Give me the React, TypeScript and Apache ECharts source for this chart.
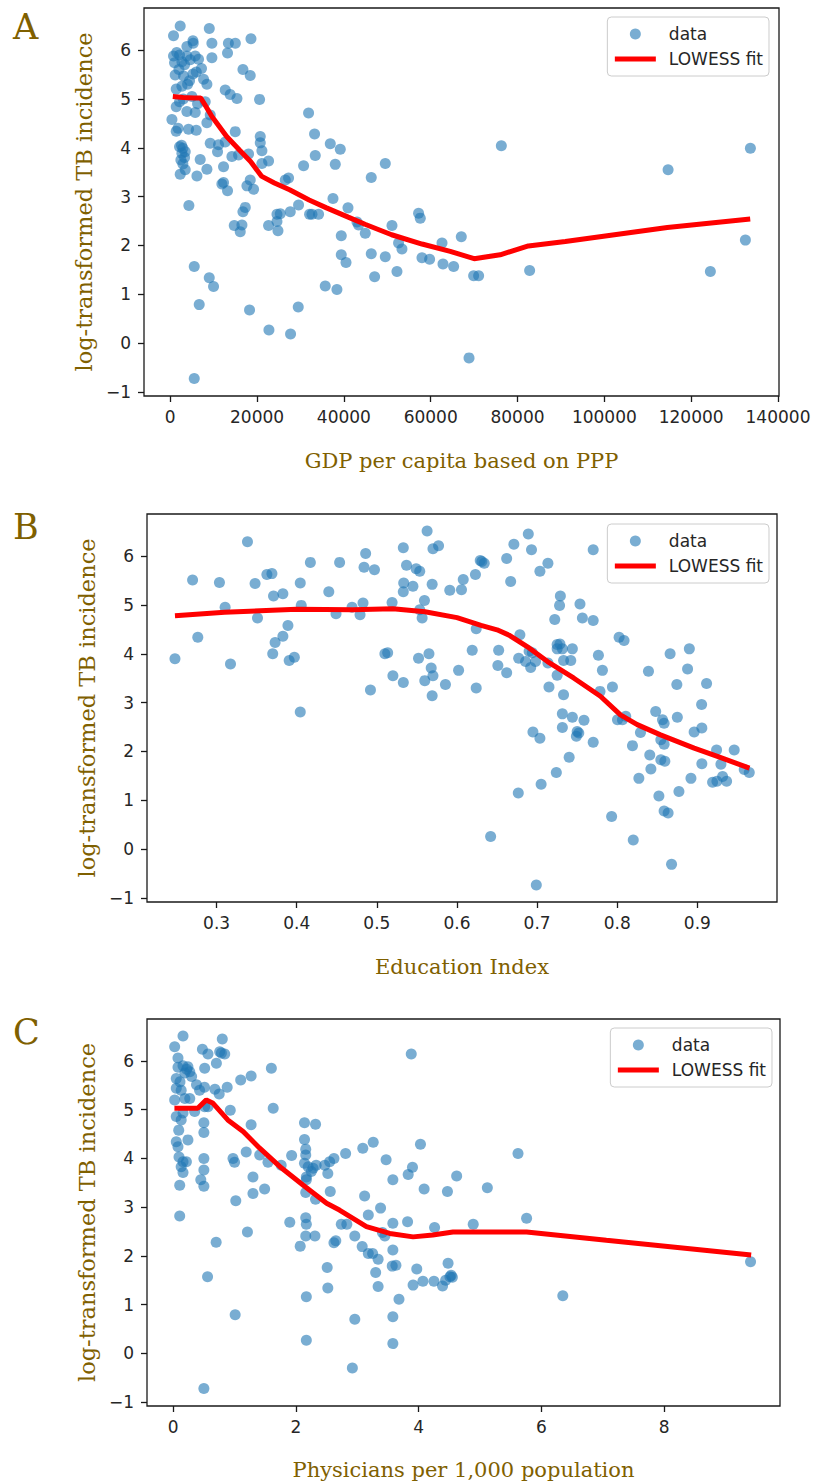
import React, { useEffect, useRef } from "react";
import * as echarts from "echarts";

// ---------- Data ----------
// Panel A: GDP per capita (PPP) vs log-transformed TB incidence
const gdpPoints: [number, number][] = [
  [2300, 6.49], [760, 6.29], [9000, 6.44], [5230, 6.19], [5300, 6.14], [3840, 6.07], [9600, 6.14],
  [13400, 6.14], [15000, 6.14], [13200, 5.94], [18600, 6.23], [760, 5.88], [2150, 5.9], [3840, 5.88],
  [5760, 5.88], [1000, 5.74], [2690, 5.76], [4600, 5.8], [6520, 5.81], [9600, 5.84], [1150, 5.49],
  [3070, 5.47], [5230, 5.51], [7680, 5.4], [8450, 5.3], [2690, 5.26], [1380, 5.2], [4450, 5.37],
  [16750, 5.6], [18430, 5.48], [12670, 5.18], [13820, 5.09], [15370, 5.01], [20580, 4.99], [390, 4.58],
  [1380, 4.84], [2150, 4.94], [3840, 4.74], [5760, 4.72], [8060, 4.94], [9220, 4.67], [8450, 4.51],
  [1380, 4.34], [4220, 4.38], [5990, 4.36], [14980, 4.33], [31870, 4.71], [33250, 4.28], [36870, 4.08],
  [39170, 3.97], [9220, 4.09], [11130, 4.06], [12670, 4.12], [2150, 4.02], [2920, 3.99], [2690, 3.89],
  [3460, 3.92], [20740, 4.23], [20740, 4.1], [21120, 3.94], [10900, 3.92], [14210, 3.82], [15740, 3.85],
  [18040, 3.87], [2460, 3.75], [6910, 3.76], [2920, 3.67], [22650, 3.73], [30720, 3.63], [33410, 3.84],
  [3460, 3.55], [8450, 3.56], [12280, 3.61], [2300, 3.46], [6150, 3.42], [21120, 3.68], [38020, 3.66],
  [49540, 3.68], [46310, 3.39], [12280, 3.29], [11900, 3.26], [13200, 3.12], [17670, 3.22], [19200, 3.15],
  [18430, 3.34], [27260, 3.38], [26500, 3.34], [37490, 2.96], [4300, 2.82],
  [1500, 5.95], [3300, 5.7], [2000, 5.6], [4000, 5.3], [6000, 5.55], [3000, 5.0], [5000, 5.05],
  [1800, 4.4], [2600, 4.05], [3300, 3.8], [6300, 4.9], [7200, 5.62],
  [17280, 2.78], [16750, 2.69], [14750, 2.41], [16520, 2.42], [16130, 2.28], [22650, 2.41], [24590, 2.49],
  [24590, 2.64], [25350, 2.65], [24820, 2.3], [27650, 2.69], [29560, 2.83], [32100, 2.64], [32650, 2.64],
  [34170, 2.64], [40950, 2.77], [39400, 2.2], [43020, 2.48], [43390, 2.42], [44930, 2.25], [39400, 1.81],
  [40490, 1.65], [35710, 1.17], [38400, 1.1], [46310, 1.83], [49540, 1.77], [47080, 1.36], [52230, 1.47],
  [51080, 2.41], [57210, 2.66], [57600, 2.56], [52600, 2.05], [53380, 1.93], [57990, 1.75], [59750, 1.72],
  [62600, 2.05], [67050, 2.18], [62830, 1.62], [65280, 1.57], [69890, 1.38], [71040, 1.38], [68830, -0.3],
  [5530, 1.57], [8990, 1.34], [9980, 1.16], [6680, 0.79], [18270, 0.68], [29490, 0.74], [22740, 0.27],
  [27720, 0.19], [5530, -0.72],
  [76270, 4.04], [133640, 3.99], [114680, 3.55], [132490, 2.11], [82790, 1.49], [124420, 1.47],
];
const gdpLowess: [number, number][] = [
  [600, 5.05], [3000, 5.03], [5500, 5.02], [7000, 5.02], [8000, 4.88], [9600, 4.64], [13000, 4.23],
  [16000, 3.95], [18500, 3.72], [21000, 3.42], [24000, 3.28], [27500, 3.14], [32000, 2.93], [36000, 2.77],
  [41000, 2.58], [45000, 2.43], [51000, 2.22], [58000, 2.03], [64500, 1.88], [70000, 1.73], [76000, 1.81],
  [82500, 1.99], [91000, 2.08], [114500, 2.37], [133600, 2.54],
];

// Panel B: Education Index
const eduPoints: [number, number][] = [
  [0.3385, 6.29], [0.27, 5.51], [0.3035, 5.46], [0.3106, 4.95], [0.2765, 4.34], [0.248, 3.9], [0.3173, 3.79],
  [0.348, 5.44], [0.3627, 5.62], [0.369, 5.64], [0.351, 4.73], [0.371, 5.18], [0.3827, 5.23], [0.389, 4.58],
  [0.3827, 4.36], [0.373, 4.23], [0.37, 4.0], [0.3906, 3.86], [0.397, 3.93], [0.4044, 5.45], [0.4056, 4.99],
  [0.417, 5.87], [0.44, 5.27], [0.4535, 5.87], [0.449, 4.82], [0.469, 4.95], [0.479, 4.8], [0.4827, 5.04],
  [0.486, 6.05], [0.484, 5.77], [0.497, 5.72], [0.519, 5.05], [0.51, 4.0], [0.5135, 4.02], [0.52, 3.55],
  [0.533, 3.41], [0.492, 3.26], [0.533, 6.17], [0.537, 5.81], [0.5335, 5.45], [0.533, 5.27], [0.545, 5.38],
  [0.549, 5.74], [0.5535, 5.69], [0.5627, 6.51], [0.57, 6.15], [0.577, 6.21], [0.569, 5.42], [0.5594, 5.09],
  [0.5535, 4.9], [0.5565, 4.73], [0.552, 3.91], [0.565, 4.0], [0.5678, 3.71], [0.57, 3.55], [0.5598, 3.45],
  [0.569, 3.14], [0.5856, 3.37], [0.591, 5.3], [0.6056, 5.31], [0.6078, 5.52], [0.602, 3.66], [0.623, 5.62],
  [0.631, 5.89], [0.624, 4.51], [0.619, 4.07], [0.624, 3.3], [0.4044, 2.81], [0.689, 6.45], [0.671, 6.24],
  [0.693, 6.13], [0.77, 6.13], [0.662, 5.95], [0.629, 5.91], [0.634, 5.85], [0.667, 5.48], [0.7035, 5.69],
  [0.7135, 5.85], [0.729, 5.18], [0.728, 4.99], [0.7535, 5.02], [0.722, 4.7], [0.7565, 4.73], [0.77, 4.68],
  [0.6785, 4.39], [0.652, 4.07], [0.651, 3.76], [0.662, 3.61], [0.677, 3.91], [0.6856, 3.84], [0.692, 3.72],
  [0.698, 3.84], [0.694, 4.02], [0.69, 4.05], [0.7135, 3.81], [0.725, 4.19], [0.7285, 4.2], [0.725, 4.1],
  [0.7315, 4.1], [0.744, 4.1], [0.742, 3.86], [0.733, 3.86], [0.725, 3.56], [0.7148, 3.32], [0.733, 3.16],
  [0.7765, 3.97], [0.7815, 3.66], [0.7785, 3.23], [0.794, 3.32], [0.8023, 4.34], [0.8085, 4.27],
  [0.7315, 2.77], [0.744, 2.7], [0.7585, 2.64], [0.7315, 2.49], [0.75, 2.41], [0.752, 2.38], [0.749, 2.31],
  [0.6948, 2.4], [0.7035, 2.27], [0.77, 2.19], [0.74, 1.88], [0.724, 1.57], [0.705, 1.33], [0.6765, 1.15],
  [0.642, 0.26], [0.699, -0.73], [0.8003, 2.65], [0.8065, 2.65], [0.8106, 2.72], [0.829, 2.39], [0.819, 2.12],
  [0.793, 0.67], [0.82, 0.19], [0.839, 3.64], [0.848, 2.82], [0.8565, 2.65], [0.8585, 2.58], [0.8544, 2.24],
  [0.8585, 2.15], [0.866, 4.0], [0.8744, 3.37], [0.89, 4.1], [0.8878, 3.69], [0.875, 2.7], [0.8406, 1.93],
  [0.842, 1.64], [0.827, 1.45], [0.8544, 1.83], [0.8594, 1.8], [0.852, 1.09], [0.8585, 0.78], [0.8635, 0.74],
  [0.8678, -0.31], [0.896, 2.4], [0.9056, 2.48], [0.9053, 2.96], [0.9115, 3.39], [0.892, 1.45], [0.877, 1.18],
  [0.9056, 1.75], [0.924, 2.03], [0.9294, 1.74], [0.9315, 1.49], [0.919, 1.37], [0.9244, 1.39], [0.9365, 1.39],
  [0.946, 2.03], [0.9585, 1.63], [0.9648, 1.57],
];
const eduLowess: [number, number][] = [
  [0.248, 4.78], [0.31, 4.85], [0.4, 4.91], [0.47, 4.9], [0.52, 4.92], [0.56, 4.86], [0.6, 4.74],
  [0.63, 4.58], [0.65, 4.49], [0.665, 4.38], [0.69, 4.12], [0.713, 3.84], [0.746, 3.5], [0.779, 3.13],
  [0.804, 2.75], [0.825, 2.55], [0.854, 2.34], [0.896, 2.07], [0.925, 1.9], [0.965, 1.66],
];

// Panel C: Physicians per 1,000 population
const physPoints: [number, number][] = [
  [0.16, 6.51], [0.024, 6.29], [0.8, 6.45], [0.476, 6.24], [0.567, 6.14], [0.758, 6.19], [0.84, 6.14],
  [0.786, 6.16], [0.704, 5.95], [0.513, 5.85], [0.078, 6.06], [0.078, 5.87], [0.16, 5.9], [0.24, 5.88],
  [0.27, 5.78], [0.19, 5.75], [0.22, 5.83], [0.05, 5.64], [0.11, 5.57], [0.05, 5.44], [0.13, 5.4],
  [0.024, 5.2], [0.19, 5.23], [0.27, 5.23], [0.3, 5.68], [0.38, 5.51], [0.43, 5.4], [0.51, 5.46],
  [0.68, 5.42], [0.75, 5.32], [0.88, 5.46], [1.1, 5.61], [1.27, 5.69], [1.6, 5.85], [1.63, 5.03],
  [0.93, 4.99], [0.567, 5.06], [0.513, 5.06], [0.35, 4.96], [0.05, 4.86], [0.13, 4.79], [0.16, 4.93],
  [0.09, 4.58], [0.05, 4.34], [0.078, 4.24], [0.24, 4.38], [0.5, 4.73], [0.5, 4.53], [1.27, 4.69],
  [2.14, 4.73], [2.32, 4.7], [2.14, 4.39], [2.16, 4.19], [2.16, 4.07], [0.095, 4.03], [0.16, 3.93],
  [0.215, 3.93], [0.13, 3.83], [0.16, 3.71], [0.5, 4.0], [0.5, 3.76], [0.45, 3.56], [0.5, 3.43],
  [0.106, 3.45], [0.975, 4.0], [1.0, 3.92], [1.19, 4.13], [1.41, 4.07], [1.545, 3.92], [1.76, 3.86],
  [1.93, 4.06], [2.14, 3.9], [2.2, 3.83], [2.28, 3.8], [2.33, 3.86], [2.25, 3.73], [2.17, 3.62],
  [2.17, 3.56], [2.47, 3.86], [2.55, 3.93], [2.62, 4.0], [2.52, 3.69], [2.81, 4.1], [3.09, 4.21],
  [3.26, 4.33], [3.47, 3.97], [4.03, 4.29], [3.88, 6.14], [3.83, 3.67], [3.9, 3.82], [3.58, 3.56],
  [4.62, 3.64], [4.09, 3.37], [4.47, 3.32], [1.3, 3.62], [1.3, 3.28], [1.49, 3.37], [1.02, 3.13],
  [2.56, 3.32], [2.16, 3.3], [2.32, 3.16], [3.12, 3.23], [3.38, 2.98], [0.106, 2.82], [0.7, 2.28],
  [1.21, 2.49], [0.56, 1.57], [1.01, 0.79], [0.5, -0.72], [1.9, 2.69], [2.16, 2.78], [2.17, 2.65],
  [2.16, 2.41], [2.31, 2.41], [2.07, 2.2], [2.17, 1.16], [2.17, 0.27], [2.51, 1.76], [2.52, 1.34],
  [2.62, 2.27], [2.65, 2.31], [2.74, 2.65], [2.83, 2.65], [2.96, 2.41], [3.18, 2.84], [3.08, 2.19],
  [3.18, 2.05], [3.25, 2.05], [3.34, 1.93], [3.3, 1.66], [3.34, 1.37], [3.41, 2.48], [3.45, 2.41],
  [3.58, 2.67], [3.58, 2.12], [3.57, 1.79], [3.63, 1.81], [3.68, 1.11], [3.58, 0.75], [3.58, 0.2],
  [2.96, 0.7], [2.92, -0.3], [3.82, 2.7], [4.26, 2.58], [4.89, 2.65], [3.97, 1.73], [3.91, 1.4],
  [4.07, 1.48], [4.25, 1.48], [4.39, 1.38], [4.44, 1.5], [4.51, 1.57], [4.53, 1.6], [4.48, 1.85],
  [4.55, 1.56], [5.62, 4.1], [5.12, 3.4], [5.76, 2.77], [6.35, 1.18], [9.41, 1.88],
];
const physLowess: [number, number][] = [
  [0.02, 5.03], [0.4, 5.03], [0.54, 5.2], [0.65, 5.13], [0.89, 4.79], [1.14, 4.55], [1.41, 4.21],
  [1.74, 3.83], [2.12, 3.45], [2.5, 3.08], [2.71, 2.94], [3.15, 2.6], [3.53, 2.46], [3.91, 2.39],
  [4.23, 2.43], [4.56, 2.49], [4.97, 2.49], [5.76, 2.49], [7.06, 2.32], [9.42, 2.02],
];

// Tick labels
const gdpTicks = [0, 20000, 40000, 60000, 80000, 100000, 120000, 140000];
const eduTicks = [0.3, 0.4, 0.5, 0.6, 0.7, 0.8, 0.9];
const physTicks = [0, 2, 4, 6, 8];
const yTicks = [-1, 0, 1, 2, 3, 4, 5, 6];

const panelLetters = ["A", "B", "C"];
const xTitles = ["GDP per capita based on PPP", "Education Index", "Physicians per 1,000 population"];
const yTitle = "log-transformed TB incidence";
const seriesNames = ["data", "LOWESS fit"];

// ---------- Layout / styles ----------
const GOLD = "#7f6000";
const INK = "#262626";
const grids = [
  { left: 144, top: 8, width: 635, height: 388 },
  { left: 147, top: 514, width: 630, height: 388 },
  { left: 147, top: 1019, width: 633, height: 387 },
];
const xRanges: [number, number][] = [
  [-6040, 140230],
  [0.2131, 0.9994],
  [-0.427, 9.89],
];
const yRange: [number, number] = [-1.08, 6.86];
const legendPos = [
  { right: 45, top: 17 },
  { right: 45, top: 524 },
  { right: 42, top: 1028 },
];
const letterTops = [9.5, 509.5, 1014.5];
const xTickSets = [gdpTicks, eduTicks, physTicks];
const pointSets = [gdpPoints, eduPoints, physPoints];
const lowessSets = [gdpLowess, eduLowess, physLowess];

const fmtNum = (v: number) => (v < 0 ? "\u2212" + String(Math.abs(v)) : String(v));

export default function App() {
  const ref = useRef<HTMLDivElement>(null);

  useEffect(() => {
    if (!ref.current) return;
    const chart = echarts.init(ref.current, undefined, { renderer: "svg" });

    const axisCommon = {
      axisLine: { show: false, onZero: false },
      splitLine: { show: false },
    };

    const option: any = {
      animation: false,
      backgroundColor: "#ffffff",
      grid: grids.map((g) => ({
        ...g,
        show: true,
        borderColor: "#1a1a1a",
        borderWidth: 1.3,
        backgroundColor: "transparent",
        containLabel: false,
        outerBoundsMode: "none",
      })),
      xAxis: grids.map((_, i) => ({
        ...axisCommon,
        type: "value",
        gridIndex: i,
        position: "bottom",
        min: xRanges[i][0],
        max: xRanges[i][1],
        name: xTitles[i],
        nameLocation: "middle",
        nameGap: i === 2 ? 53.5 : 54.5,
        nameTextStyle: { fontFamily: "DejaVu Serif", fontSize: 21, color: GOLD },
        axisTick: {
          show: true,
          customValues: xTickSets[i],
          length: 6,
          lineStyle: { color: "#1a1a1a", width: 1.3 },
        },
        axisLabel: {
          show: true,
          customValues: xTickSets[i],
          margin: 12,
          fontFamily: "DejaVu Sans",
          fontSize: 17,
          color: INK,
          formatter: (v: number) => fmtNum(v),
        },
      })),
      yAxis: grids.map((_, i) => ({
        ...axisCommon,
        type: "value",
        gridIndex: i,
        position: "left",
        min: yRange[0],
        max: yRange[1],
        name: yTitle,
        nameLocation: "middle",
        nameGap: 49,
        nameRotate: 90,
        nameTextStyle: { fontFamily: "DejaVu Serif", fontSize: 22.5, color: GOLD },
        axisTick: {
          show: true,
          customValues: yTicks,
          length: 6,
          lineStyle: { color: "#1a1a1a", width: 1.3 },
        },
        axisLabel: {
          show: true,
          customValues: yTicks,
          margin: 13,
          fontFamily: "DejaVu Sans",
          fontSize: 17,
          color: INK,
          formatter: (v: number) => fmtNum(v),
        },
      })),
      legend: grids.map((_, i) => ({
        orient: "vertical",
        right: legendPos[i].right,
        top: legendPos[i].top,
        itemWidth: 41,
        itemHeight: 11,
        itemGap: 5,
        padding: [7, 6, 7, 5],
        backgroundColor: "rgba(255,255,255,0.8)",
        borderColor: "#cccccc",
        borderWidth: 1,
        borderRadius: 4,
        selectedMode: false,
        textStyle: {
          fontFamily: "DejaVu Sans",
          fontSize: 17,
          color: INK,
          lineHeight: 20,
          padding: [0, 0, 0, 8],
        },
        data: [
          { name: seriesNames[0], icon: "circle" },
          {
            name: seriesNames[1],
            itemStyle: { opacity: 0 },
            lineStyle: { width: 5, color: "#ff0000", opacity: 1 },
          },
        ],
      })),
      graphic: panelLetters.map((t, i) => ({
        type: "text",
        left: 13,
        top: letterTops[i],
        style: { text: t, font: '35px "DejaVu Serif"', fill: GOLD },
      })),
      series: grids.flatMap((_, i) => [
        {
          name: seriesNames[0],
          type: "scatter",
          xAxisIndex: i,
          yAxisIndex: i,
          symbol: "circle",
          symbolSize: 11,
          itemStyle: { color: "#1f77b4", opacity: 0.6 },
          data: pointSets[i],
          z: 2,
        },
        {
          name: seriesNames[1],
          type: "line",
          xAxisIndex: i,
          yAxisIndex: i,
          symbol: "none",
          showSymbol: false,
          smooth: false,
          lineStyle: { color: "#ff0000", width: 5 },
          itemStyle: { color: "#ff0000" },
          data: lowessSets[i],
          z: 3,
        },
      ]),
    };

    chart.setOption(option);
    return () => chart.dispose();
  }, []);

  return (
    <div
      ref={ref}
      style={{ position: "absolute", left: 0, top: 0, width: 814, height: 1483, background: "#fff" }}
    />
  );
}
